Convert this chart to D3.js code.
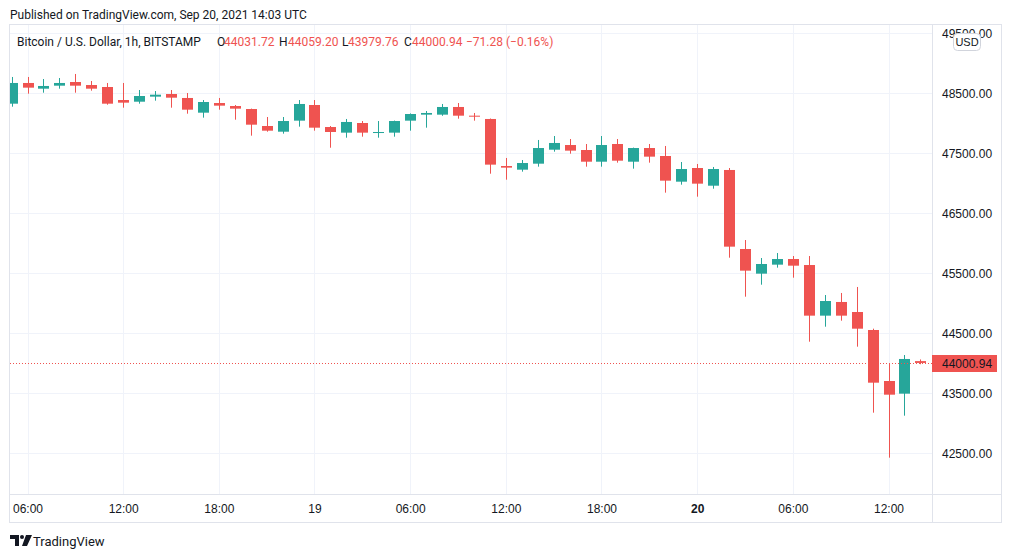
<!DOCTYPE html>
<html>
	<head>
		<title>BTCUSD 1h</title>

		<style>
		body {
			margin: 0;
			background: #ffffff;
		}

		svg {
			display: block;
			font-family: Roboto, "Noto Sans", sans-serif;
			font-size: 12px;
			fill: #131722;
		}

		.grid line {
			stroke: #f0f3fa;
			stroke-width: 1px;
		}

		.frame line, .frame rect {
			stroke: #e0e3eb;
			stroke-width: 1px;
			fill: none;
		}

		.axis text {
			fill: #131722;
			font-size: 12px;
		}

		.axis path, .axis line {
			display: none;
		}

		.up {
			fill: #26a69a;
			stroke: #26a69a;
		}

		.down {
			fill: #ef5350;
			stroke: #ef5350;
		}

		.red {
			fill: #ef5350;
		}
		</style>

		<script src="https://d3js.org/d3.v7.min.js"></script>
	</head>
	<body>
		<svg id="chart" width="1012" height="558">
			<g class="frame"/>
			<g class="grid"/>
			<g class="plot" clip-path="url(#plotClip)"/>
			<g class="price axis"/>
			<g class="time axis"/>
			<g class="legend"/>
		</svg>

		<script>
		// hourly candles, Sep 18 05:00 UTC .. Sep 20 14:00 UTC
		var firstHour = '2021-09-18T05:00:00Z';

		var opens = [
			48322, 48667, 48572, 48622, 48683, 48633, 48600, 48383, 48355, 48439,
			48483, 48417, 48172, 48333, 48283, 48233, 47950, 47855, 48039, 48300,
			47933, 47839, 48000, 47833, 47839, 48039, 48139, 48139, 48267, 48122,
			48067, 47283, 47222, 47322, 47555, 47633, 47550, 47355, 47650, 47355,
			47583, 47450, 47022, 47250, 46955, 47217, 45900, 45489, 45639, 45733,
			45633, 44789, 45017, 44850, 44550, 43700, 43489, 44031.72
		];
		var highs = [
			48767, 48767, 48733, 48750, 48817, 48700, 48667, 48667, 48550, 48533,
			48550, 48500, 48383, 48417, 48300, 48240, 48100, 48100, 48383, 48383,
			47950, 48067, 48033, 48033, 48040, 48160, 48200, 48317, 48333, 48167,
			48075, 47417, 47383, 47717, 47783, 47733, 47650, 47783, 47733, 47590,
			47650, 47617, 47350, 47317, 47267, 47250, 46050, 45750, 45833, 45783,
			45783, 45133, 45167, 45267, 44572, 43983, 44133, 44059.20
		];
		var lows = [
			48272, 48489, 48505, 48572, 48505, 48539, 48305, 48255, 48322, 48372,
			48255, 48155, 48089, 48222, 48055, 47789, 47855, 47822, 47939, 47872,
			47588, 47755, 47772, 47755, 47772, 47872, 47922, 48120, 48072, 48039,
			47155, 47055, 47189, 47272, 47522, 47489, 47272, 47272, 47339, 47239,
			47339, 46839, 46972, 46772, 46905, 45755, 45105, 45305, 45589, 45422,
			44355, 44605, 44705, 44272, 43172, 42422, 43122, 43979.76
		];
		var closes = [
			48667, 48589, 48617, 48667, 48622, 48572, 48322, 48339, 48450, 48472,
			48422, 48222, 48350, 48289, 48239, 47972, 47872, 48033, 48317, 47922,
			47850, 48017, 47839, 47850, 48033, 48150, 48167, 48267, 48122, 48105,
			47306, 47256, 47333, 47583, 47667, 47539, 47355, 47633, 47372, 47583,
			47439, 47039, 47233, 46989, 47233, 45939, 45539, 45650, 45733, 45622,
			44789, 45033, 44789, 44572, 43672, 43472, 44067, 44000.94
		];

		var priceTicks = [42500, 43500, 44500, 45500, 46500, 47500, 48500, 49500];
		var timeTicks = [
			'2021-09-18T06:00:00Z', '2021-09-18T12:00:00Z', '2021-09-18T18:00:00Z',
			'2021-09-19T00:00:00Z', '2021-09-19T06:00:00Z', '2021-09-19T12:00:00Z',
			'2021-09-19T18:00:00Z', '2021-09-20T00:00:00Z', '2021-09-20T06:00:00Z',
			'2021-09-20T12:00:00Z'
		];

		var legendParts = [
			['Bitcoin / U.S. Dollar, 1h, BITSTAMP', 17, false],
			['O', 217, false], ['44031.72', 224, true],
			['H', 279, false], ['44059.20', 288, true],
			['L', 342, false], ['43979.76', 348, true],
			['C', 404, false], ['44000.94', 412, true],
			['\u221271.28 (\u22120.16%)', 466, true]
		];

		function drawChart () {
			var	svg	= d3.select('#chart'),
				left	= 10,
				right	= 932,
				top	= 25,
				bottom	= 494,
				start	= new Date(firstHour),
				hours	= closes.map(function (d, i) { return d3.utcHour.offset(start, i); }),
				candles	= hours.map(function (t, i) {
					return { t: t, o: opens[i], h: highs[i], l: lows[i], c: closes[i] };
				}),
				xScale	= d3.scaleUtc()
					.domain([new Date(timeTicks[0]), new Date(timeTicks[timeTicks.length - 1])])
					.range([27.5, 888.5]),
				yScale	= d3.scaleLinear().domain([42500, 48500]).range([453, 93]);

			svg.append('defs').append('clipPath').attr('id', 'plotClip')
				.append('rect')
				.attr('x', left).attr('y', top)
				.attr('width', right - left).attr('height', bottom - top);

			// gridlines
			var grid = svg.select('.grid');
			grid.selectAll('line.h')
				.data(priceTicks)
				.enter().append('line')
				.attr('class', 'h')
				.attr('x1', left).attr('x2', right)
				.attr('y1', function (d) { return Math.round(yScale(d)) + 0.5; })
				.attr('y2', function (d) { return Math.round(yScale(d)) + 0.5; });
			grid.selectAll('line.v')
				.data(timeTicks)
				.enter().append('line')
				.attr('class', 'v')
				.attr('y1', top).attr('y2', bottom)
				.attr('x1', function (d) { return Math.round(xScale(new Date(d))) + 0.5; })
				.attr('x2', function (d) { return Math.round(xScale(new Date(d))) + 0.5; });

			// candles
			var plot = svg.select('.plot');
			var c = plot.selectAll('g.candle')
				.data(candles)
				.enter().append('g')
				.attr('class', function (d) { return 'candle ' + (d.c >= d.o ? 'up' : 'down'); });

			c.append('line')
				.attr('x1', function (d) { return Math.round(xScale(d.t)) + 0.5; })
				.attr('x2', function (d) { return Math.round(xScale(d.t)) + 0.5; })
				.attr('y1', function (d) { return yScale(d.h); })
				.attr('y2', function (d) { return yScale(d.l); })
				.attr('stroke-width', 1);

			c.append('rect')
				.attr('stroke', 'none')
				.attr('x', function (d) { return Math.round(xScale(d.t)) - 5; })
				.attr('width', 11)
				.attr('y', function (d) { return yScale(Math.max(d.o, d.c)); })
				.attr('height', function (d) {
					return Math.max(1, yScale(Math.min(d.o, d.c)) - yScale(Math.max(d.o, d.c)));
				});

			// last price line
			var last = candles[candles.length - 1];
			var lastY = Math.round(yScale(last.c)) + 0.5;
			plot.append('line')
				.attr('x1', left).attr('x2', right)
				.attr('y1', lastY).attr('y2', lastY)
				.attr('stroke', '#ef5350')
				.attr('stroke-width', 1)
				.attr('stroke-dasharray', '1,2');

			// frame
			var frame = svg.select('.frame');
			frame.append('rect')
				.attr('x', 9.5).attr('y', 24.5)
				.attr('width', 992).attr('height', 498);
			frame.append('line')
				.attr('x1', right + 0.5).attr('x2', right + 0.5)
				.attr('y1', 24.5).attr('y2', 522.5);
			frame.append('line')
				.attr('x1', 9.5).attr('x2', 1001.5)
				.attr('y1', bottom + 0.5).attr('y2', bottom + 0.5);

			// price axis
			var priceAxis = d3.axisRight(yScale)
				.tickValues(priceTicks)
				.tickSize(0)
				.tickPadding(10)
				.tickFormat(d3.format('.2f'));
			svg.select('.price.axis')
				.attr('transform', 'translate(' + right + ',0)')
				.call(priceAxis)
				.selectAll('text')
				.attr('dy', '0.35em');

			var tag = svg.select('.price.axis').append('g');
			tag.append('rect')
				.attr('class', 'red')
				.attr('x', 0).attr('y', lastY - 8.5)
				.attr('width', 65).attr('height', 17);
			tag.append('text')
				.attr('x', 10).attr('y', lastY)
				.attr('dy', '0.35em')
				.attr('fill', '#ffffff')
				.text(d3.format('.2f')(last.c));

			var usd = svg.select('.price.axis').append('g')
				.attr('transform', 'translate(21,33)');
			usd.append('rect')
				.attr('x', 0.5).attr('y', 0.5)
				.attr('width', 27).attr('height', 17)
				.attr('rx', 4)
				.attr('fill', '#ffffff')
				.attr('stroke', '#d1d4dc');
			usd.append('text')
				.attr('x', 14).attr('y', 9)
				.attr('dy', '0.35em')
				.attr('text-anchor', 'middle')
				.style('font-size', '11px')
				.text('USD');

			// time axis
			var timeAxis = d3.axisBottom(xScale)
				.tickValues(timeTicks.map(function (d) { return new Date(d); }))
				.tickSize(0)
				.tickPadding(0)
				.tickFormat(function (d) {
					return d.getUTCHours() === 0 ? d3.utcFormat('%-d')(d) : d3.utcFormat('%H:%M')(d);
				});
			svg.select('.time.axis')
				.attr('transform', 'translate(0,' + (bottom + 15) + ')')
				.call(timeAxis)
				.selectAll('text')
				.attr('dy', '0.35em')
				.attr('y', 0)
				.style('font-weight', function (d) { return d.getUTCHours() === 0 && d.getUTCDate() === 20 ? 'bold' : null; });

			// legend and captions
			var legend = svg.select('.legend');
			legend.append('text')
				.attr('x', 10).attr('y', 19)
				.style('font-size', '12px')
				.text('Published on TradingView.com, Sep 20, 2021 14:03 UTC');

			legend.selectAll('text.part')
				.data(legendParts)
				.enter().append('text')
				.attr('class', function (d) { return 'part' + (d[2] ? ' red' : ''); })
				.attr('x', function (d) { return d[1]; })
				.attr('y', 46)
				.text(function (d) { return d[0]; });

			// logo
			var logo = legend.append('g').attr('transform', 'translate(10,535)');
			logo.append('path')
				.attr('d', 'M0 0H9V11H5V4H0Z M16 0H22L17 11H12Z')
				.attr('fill', '#131722');
			logo.append('circle')
				.attr('cx', 12).attr('cy', 2).attr('r', 2)
				.attr('fill', '#131722');
			legend.append('text')
				.attr('x', 33).attr('y', 546)
				.style('font-size', '13px')
				.text('TradingView');
		}

		drawChart();
		</script>
	</body>
</html>
